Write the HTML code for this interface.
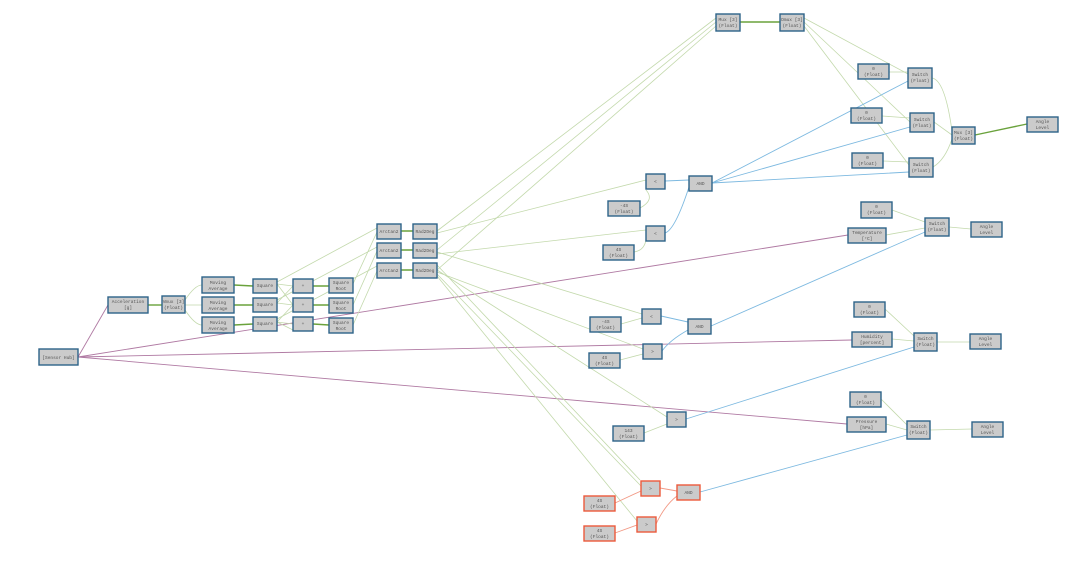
<!DOCTYPE html>
<html><head><meta charset="utf-8"><style>
html,body{margin:0;padding:0;background:#fff;}
svg{display:block}
text{font-family:"Liberation Mono",monospace;font-size:4.5px;fill:#555;text-anchor:middle}
.n{fill:#cbcbcb;stroke:#2d6389;stroke-width:1.4}
.r{fill:#cbcbcb;stroke:#ec5a3c;stroke-width:1.4}
.g{stroke:#c3d9ac;stroke-width:0.8;fill:none}
.G{stroke:#6aa23c;stroke-width:1.4;fill:none}
.b{stroke:#7db9e0;stroke-width:0.9;fill:none}
.p{stroke:#b07aa3;stroke-width:0.9;fill:none}
.o{stroke:#f29a86;stroke-width:0.9;fill:none}
</style></head><body>
<svg width="1080" height="580" viewBox="0 0 1080 580" xmlns="http://www.w3.org/2000/svg">
<!-- purple edges -->
<path class="p" d="M78 357 L108 305"/>
<path class="p" d="M78 357 L848 235"/>
<path class="p" d="M78 357 L852 340"/>
<path class="p" d="M78 357 L847 424"/>
<!-- left green -->
<path class="G" d="M148 305 L162 305"/>
<path class="g" d="M185 300 Q195 285 202 285 M185 305 L202 305 M185 310 Q195 325 202 325"/>
<path class="G" d="M234 285 L253 286 M234 305 L253 305 M234 325 L253 324"/>
<path class="g" d="M277 284 L293 286 M277 284 L293 305 M277 303 L293 286 M277 303 L293 305 M277 322 L293 305 M277 322 L293 324 M277 322 L293 330"/>
<path class="G" d="M313 286 L329 286 M313 305 L329 305 M313 324 L329 325"/>
<path class="g" d="M353 284 L377 232 M353 305 L377 251 M353 325 L377 271 M277 282 L377 228 M277 300 L377 247 M277 319 L377 266"/>
<path class="G" d="M401 231 L413 231 M401 250 L413 250 M401 270 L413 270"/>
<path class="g" d="M437 231 L716 18 M437 250 L716 22 M437 270 L716 26"/>
<path class="g" d="M437 233 L646 180 M437 252 L642 314 M437 254 L646 230 M437 272 L643 349 M437 270 L667 417 M437 274 L641 486 M437 276 L637 521 M437 265 L640 480"/>
<path class="G" d="M740 22 L780 22"/>
<path class="g" d="M804 18 L908 74 M804 22 L910 122 M804 26 L909 165"/>
<path class="g" d="M889 72 L908 72 M882 116 L910 118 M883 161 L909 162"/>
<path class="g" d="M932 78 Q945 80 952 131 M934 122 L952 135 M933 167 Q945 160 952 139"/>
<path class="G" d="M975 135 L1027 124"/>
<!-- comparators -->
<path class="g" d="M640 208 Q655 200 646 190 M634 252 Q646 250 646 237"/>
<path class="b" d="M665 181 L689 180 M665 233 Q675 230 689 187"/>
<path class="b" d="M712 183 L910 80 M712 183 L910 127 M712 183 L909 172"/>
<path class="g" d="M892 210 L925 222 M886 235 L925 228"/>
<path class="g" d="M949 227 L971 229"/>
<path class="b" d="M711 326 L925 232"/>
<path class="g" d="M621 324 L642 318 M620 360 L643 354"/>
<path class="b" d="M661 316 L688 322 M662 351 Q670 340 688 330"/>
<path class="g" d="M885 309 L914 336 M892 339 L914 341 M937 342 L970 342"/>
<path class="b" d="M686 419 L914 347"/>
<path class="g" d="M644 433 L667 424 M881 399 L907 425 M886 424 L907 430 M930 430 L972 429"/>
<path class="b" d="M700 492 L907 435"/>
<path class="o" d="M615 503 L641 491 M615 533 L637 525 M660 488 L677 491 M656 524 Q665 505 677 496"/>
<!-- nodes -->
<g>
<rect class="n" x="39" y="349" width="39" height="16"/><text x="58.5" y="359">[Sensor Hub]</text>
<rect class="n" x="108" y="297" width="40" height="16"/><text x="128" y="303">Acceleration</text><text x="128" y="309">[g]</text>
<rect class="n" x="162" y="296" width="23" height="17"/><text x="173.5" y="303">Vmux [3]</text><text x="173.5" y="309">(Float)</text>
<rect class="n" x="202" y="277" width="32" height="16"/><text x="218" y="284">Moving</text><text x="218" y="290">Average</text>
<rect class="n" x="202" y="297" width="32" height="16"/><text x="218" y="304">Moving</text><text x="218" y="310">Average</text>
<rect class="n" x="202" y="317" width="32" height="16"/><text x="218" y="324">Moving</text><text x="218" y="330">Average</text>
<rect class="n" x="253" y="279" width="24" height="14"/><text x="265" y="287">Square</text>
<rect class="n" x="253" y="298" width="24" height="14"/><text x="265" y="306">Square</text>
<rect class="n" x="253" y="317" width="24" height="14"/><text x="265" y="325">Square</text>
<rect class="n" x="293" y="279" width="20" height="14"/><text x="303" y="287">+</text>
<rect class="n" x="293" y="298" width="20" height="14"/><text x="303" y="306">+</text>
<rect class="n" x="293" y="317" width="20" height="14"/><text x="303" y="325">+</text>
<rect class="n" x="329" y="278" width="24" height="15"/><text x="341" y="284">Square</text><text x="341" y="290">Root</text>
<rect class="n" x="329" y="298" width="24" height="15"/><text x="341" y="304">Square</text><text x="341" y="310">Root</text>
<rect class="n" x="329" y="318" width="24" height="15"/><text x="341" y="324">Square</text><text x="341" y="330">Root</text>
<rect class="n" x="377" y="224" width="24" height="15"/><text x="389" y="233">Arctan2</text>
<rect class="n" x="377" y="243" width="24" height="15"/><text x="389" y="252">Arctan2</text>
<rect class="n" x="377" y="263" width="24" height="15"/><text x="389" y="272">Arctan2</text>
<rect class="n" x="413" y="224" width="24" height="15"/><text x="425" y="233">Rad2Deg</text>
<rect class="n" x="413" y="243" width="24" height="15"/><text x="425" y="252">Rad2Deg</text>
<rect class="n" x="413" y="263" width="24" height="15"/><text x="425" y="272">Rad2Deg</text>
<rect class="n" x="716" y="14" width="24" height="17"/><text x="728" y="21">Mux [3]</text><text x="728" y="27">(Float)</text>
<rect class="n" x="780" y="14" width="24" height="17"/><text x="792" y="21">Dmux [3]</text><text x="792" y="27">(Float)</text>
<rect class="n" x="858" y="64" width="31" height="15"/><text x="873.5" y="70">0</text><text x="873.5" y="76">(Float)</text>
<rect class="n" x="908" y="68" width="24" height="20"/><text x="920" y="76">Switch</text><text x="920" y="82">(Float)</text>
<rect class="n" x="851" y="108" width="31" height="15"/><text x="866.5" y="114">0</text><text x="866.5" y="120">(Float)</text>
<rect class="n" x="910" y="113" width="24" height="19"/><text x="922" y="121">Switch</text><text x="922" y="127">(Float)</text>
<rect class="n" x="852" y="153" width="31" height="15"/><text x="867.5" y="159">0</text><text x="867.5" y="165">(Float)</text>
<rect class="n" x="909" y="158" width="24" height="19"/><text x="921" y="166">Switch</text><text x="921" y="172">(Float)</text>
<rect class="n" x="952" y="127" width="23" height="17"/><text x="963.5" y="134">Mux [3]</text><text x="963.5" y="140">(Float)</text>
<rect class="n" x="1027" y="117" width="31" height="15"/><text x="1042.5" y="123">Angle</text><text x="1042.5" y="129">Level</text>
<rect class="n" x="646" y="174" width="19" height="15"/><text x="655.5" y="183">&lt;</text>
<rect class="n" x="689" y="176" width="23" height="15"/><text x="700.5" y="185">AND</text>
<rect class="n" x="608" y="201" width="32" height="15"/><text x="624" y="207">-4S</text><text x="624" y="213">(Float)</text>
<rect class="n" x="646" y="226" width="19" height="15"/><text x="655.5" y="235">&lt;</text>
<rect class="n" x="603" y="245" width="31" height="15"/><text x="618.5" y="251">4S</text><text x="618.5" y="257">(Float)</text>
<rect class="n" x="861" y="202" width="31" height="16"/><text x="876.5" y="208">0</text><text x="876.5" y="214">(Float)</text>
<rect class="n" x="848" y="228" width="38" height="15"/><text x="867" y="234">Temperature</text><text x="867" y="240">[°C]</text>
<rect class="n" x="925" y="218" width="24" height="18"/><text x="937" y="225">Switch</text><text x="937" y="231">(Float)</text>
<rect class="n" x="971" y="222" width="31" height="15"/><text x="986.5" y="228">Angle</text><text x="986.5" y="234">Level</text>
<rect class="n" x="642" y="309" width="19" height="15"/><text x="651.5" y="318">&lt;</text>
<rect class="n" x="590" y="317" width="31" height="15"/><text x="605.5" y="323">-4S</text><text x="605.5" y="329">(Float)</text>
<rect class="n" x="688" y="319" width="23" height="15"/><text x="699.5" y="328">AND</text>
<rect class="n" x="643" y="344" width="19" height="15"/><text x="652.5" y="353">&gt;</text>
<rect class="n" x="589" y="353" width="31" height="15"/><text x="604.5" y="359">4S</text><text x="604.5" y="365">(Float)</text>
<rect class="n" x="854" y="302" width="31" height="15"/><text x="869.5" y="308">0</text><text x="869.5" y="314">(Float)</text>
<rect class="n" x="852" y="332" width="40" height="15"/><text x="872" y="338">Humidity</text><text x="872" y="344">[percent]</text>
<rect class="n" x="914" y="333" width="23" height="18"/><text x="925.5" y="340">Switch</text><text x="925.5" y="346">(Float)</text>
<rect class="n" x="970" y="334" width="31" height="15"/><text x="985.5" y="340">Angle</text><text x="985.5" y="346">Level</text>
<rect class="n" x="667" y="412" width="19" height="15"/><text x="676.5" y="421">&gt;</text>
<rect class="n" x="613" y="426" width="31" height="15"/><text x="628.5" y="432">143</text><text x="628.5" y="438">(Float)</text>
<rect class="n" x="850" y="392" width="31" height="15"/><text x="865.5" y="398">0</text><text x="865.5" y="404">(Float)</text>
<rect class="n" x="847" y="417" width="39" height="15"/><text x="866.5" y="423">Pressure</text><text x="866.5" y="429">[hPa]</text>
<rect class="n" x="907" y="421" width="23" height="18"/><text x="918.5" y="428">Switch</text><text x="918.5" y="434">(Float)</text>
<rect class="n" x="972" y="422" width="31" height="15"/><text x="987.5" y="428">Angle</text><text x="987.5" y="434">Level</text>
<rect class="r" x="641" y="481" width="19" height="15"/><text x="650.5" y="490">&gt;</text>
<rect class="r" x="677" y="485" width="23" height="15"/><text x="688.5" y="494">AND</text>
<rect class="r" x="584" y="496" width="31" height="15"/><text x="599.5" y="502">4S</text><text x="599.5" y="508">(Float)</text>
<rect class="r" x="637" y="517" width="19" height="15"/><text x="646.5" y="526">&gt;</text>
<rect class="r" x="584" y="526" width="31" height="15"/><text x="599.5" y="532">4S</text><text x="599.5" y="538">(Float)</text>
</g>
</svg>
</body></html>
